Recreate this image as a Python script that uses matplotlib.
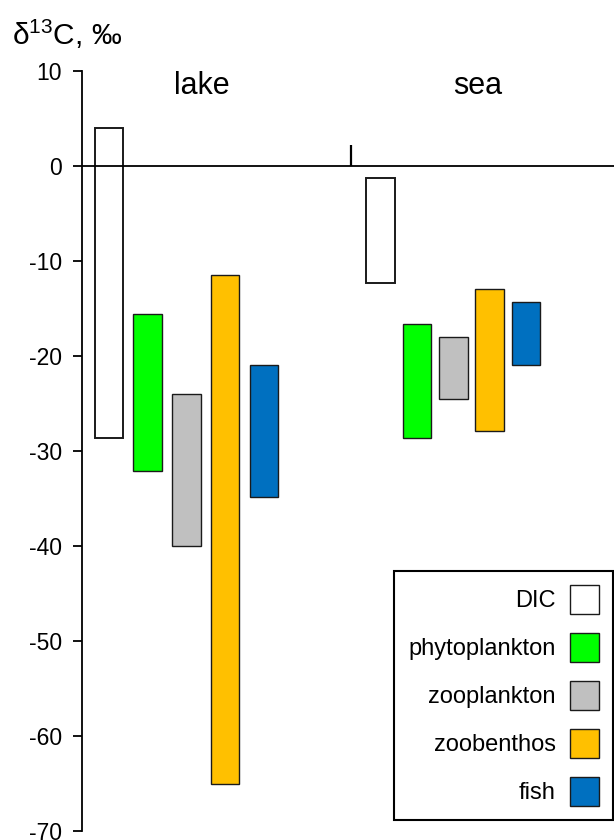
import matplotlib
matplotlib.use("Agg")
import matplotlib.pyplot as plt
from matplotlib.patches import Patch
import numpy as np

plt.rcParams['font.family'] = ['Liberation Sans', 'DejaVu Sans']
plt.rcParams['axes.unicode_minus'] = False
plt.rcParams['mathtext.fontset'] = 'custom'
plt.rcParams['mathtext.rm'] = 'Liberation Sans'
plt.rcParams['mathtext.default'] = 'regular'

# ---- data ----
groups = ["lake", "sea"]
components = ["DIC", "phytoplankton", "zooplankton", "zoobenthos", "fish"]
colors = ["#FFFFFF", "#00FF00", "#C0C0C0", "#FFC000", "#0070C0"]
lake_low = [-28.6, -32.1, -40.0, -65.0, -34.8]
lake_high = [4.0, -15.6, -24.0, -11.5, -20.9]
sea_low = [-12.3, -28.6, -24.5, -27.9, -20.9]
sea_high = [-1.3, -16.6, -18.0, -12.9, -14.3]
yticks = [10, 0, -10, -20, -30, -40, -50, -60, -70]
title = "δ$^{13}$C, ‰"

W, H = 614, 840
fig = plt.figure(figsize=(W / 100, H / 100), dpi=100)
ax = fig.add_axes([82 / W, 9 / H, 532 / W, 760 / H])
ax.set_xlim(0, 532)
ax.set_ylim(-70, 10)

bar_w = 28.6
lake_x = 26.8 + 38.75 * np.arange(5)
sea_x = 298.7 + 36.3 * np.arange(5)

for xs, lo, hi in [(lake_x, lake_low, lake_high), (sea_x, sea_low, sea_high)]:
    lo = np.array(lo)
    hi = np.array(hi)
    for i in range(5):
        ax.bar(xs[i], hi[i] - lo[i], bottom=lo[i], width=bar_w,
               color=colors[i], edgecolor="#1a1a1a",
               linewidth=1.4 if i == 0 else 1.0, zorder=2)

# zero line and group separator tick
ax.axhline(0, color="black", lw=1.3, zorder=3)
sep_x = 268.7
ax.plot([sep_x, sep_x], [0, 2.2], color="black", lw=1.6, zorder=3, solid_capstyle="butt")

# group labels
ax.text(119.5, 7.59, groups[0], ha="center", va="baseline", fontsize=22)
ax.text(396, 7.59, groups[1], ha="center", va="baseline", fontsize=22)

# axes styling
for s in ["top", "right", "bottom"]:
    ax.spines[s].set_visible(False)
ax.spines["left"].set_linewidth(1.3)
ax.set_xticks([])
ax.set_yticks(yticks)
ax.set_yticklabels([str(t) for t in yticks])
ax.tick_params(axis="y", direction="out", length=6.5, width=1.3, pad=8, labelsize=16.5)

# title
fig.text(11.7 / W, 1 - 45 / H, title, ha="left", va="baseline", fontsize=21.5)

# legend
handles = [Patch(facecolor=c, edgecolor="#1a1a1a", linewidth=1.0) for c in colors]
fs = 17
em = fs * 100 / 72
hh = (29 / em - 0.245) / 0.65
leg = ax.legend(handles, components, loc="lower right",
                bbox_to_anchor=(612.7 / W, 20 / H), bbox_transform=fig.transFigure,
                markerfirst=False, frameon=True, fancybox=False, framealpha=1,
                edgecolor="black", fontsize=fs,
                handlelength=28.7 / em, handleheight=hh,
                labelspacing=(48 - 29) / em, handletextpad=14 / em,
                borderpad=0.6, borderaxespad=0)
leg.get_frame().set_linewidth(1.5)

fig.savefig("out.png", dpi=100)
